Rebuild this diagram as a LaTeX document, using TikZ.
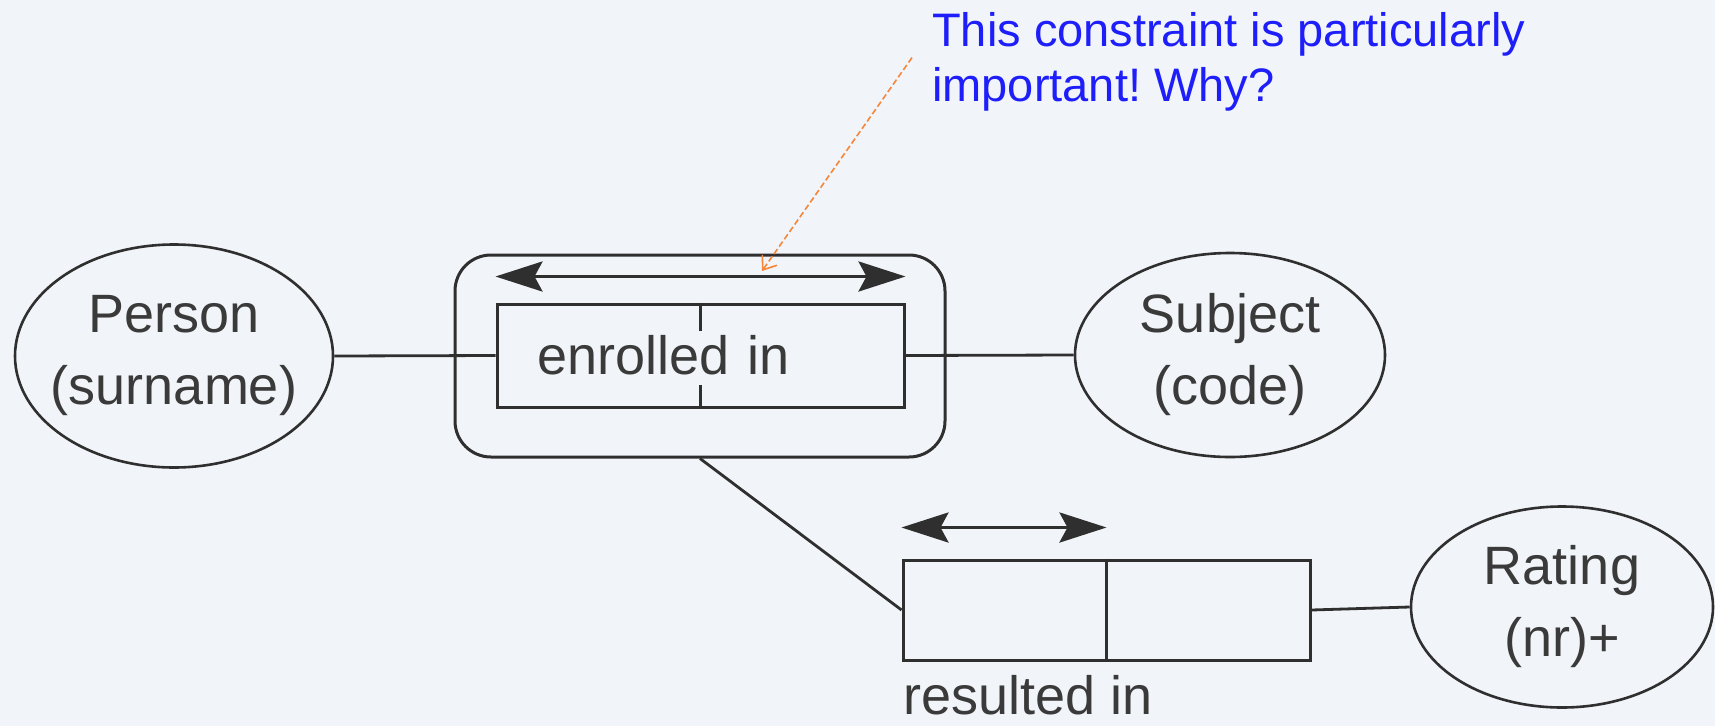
\documentclass[tikz,border=0pt]{standalone}
\usepackage{fontspec}
\setmainfont{Liberation Sans}
\usepackage{xcolor}
\usetikzlibrary{arrows.meta,positioning,shapes.geometric}
\definecolor{SlideBG}   {HTML}{F1F4F8}
\definecolor{InkGray}   {HTML}{2F2F2F}
\definecolor{LabelGray} {HTML}{3A3A3A}
\definecolor{NoteBlue}  {HTML}{1E1EFA}
\definecolor{HintOrange}{HTML}{F5863A}
\frenchspacing

\begin{document}
\begin{tikzpicture}[x=1pt,y=-1pt,
  entity/.style={ellipse,draw=InkGray,line width=2.6pt,text=LabelGray,
    font=\fontsize{54}{72}\selectfont,align=center,inner ysep=0pt,inner xsep=-12pt},
  rolebox/.style={rectangle,draw=InkGray,line width=3pt,minimum width=407pt,
    minimum height=103pt,inner sep=0pt},
  link/.style={draw=InkGray,line width=2.8pt},
  uniq/.style={draw=InkGray,line width=3.5pt,
    {Stealth[length=47pt,width=30pt,inset=8pt]}-{Stealth[length=47pt,width=30pt,inset=8pt]}},
  hint/.style={draw=HintOrange,line width=1.6pt,dash pattern=on 6pt off 3pt,
    -{Straight Barb[length=12pt,width=18pt]}}]
  \fill[SlideBG] (0,0) rectangle (1715,726);
  \useasboundingbox (0,0) rectangle (1715,726);

  % object types
  \node[entity,minimum width=318pt,minimum height=223pt] (person) at (174,356) {Person\\(surname)};
  \node[entity,minimum width=310pt,minimum height=204pt] (subject) at (1230,355) {Subject\\(code)};
  \node[entity,minimum width=302pt,minimum height=201pt] (rating) at (1562,607) {Rating\\(nr)+};

  % objectified fact type
  \node[rectangle,draw=InkGray,line width=3pt,rounded corners=36pt,
        minimum width=490pt,minimum height=202pt] (frame) at (700,356) {};
  \node[rolebox,inner xsep=40pt,text width=327pt,align=left,text=LabelGray,
        font=\fontsize{54}{72}\selectfont] (enrolled) at (700.5,355.5) {enrolled in};
  \draw[link] (enrolled.north) -- ++(0,28);
  \draw[link] (enrolled.south) -- ++(0,-24);
  \draw[uniq] ([yshift=26pt]enrolled.north west) -- ([yshift=26pt]enrolled.north east);

  % nested fact type
  \node[rolebox,minimum height=100pt] (resulted) at (1106.5,610) {};
  \draw[link] (resulted.north) -- (resulted.south);
  \draw[uniq] ([yshift=31pt]resulted.north west) -- ([yshift=31pt]resulted.north);
  \node[anchor=base west,inner sep=0pt,text=LabelGray,font=\fontsize{54}{72}\selectfont]
    (resultlbl) at ([xshift=2pt,yshift=-53pt]resulted.south west) {resulted in};

  % connectors
  \draw[link] (person.east) -- (enrolled.west);
  \draw[link] (enrolled.east) -- (subject.west);
  \draw[link] (frame.south) -- (resulted.west);
  \draw[link] (resulted.east) -- (rating.west);

  % remark
  \node[anchor=north west,text=NoteBlue,align=left,inner xsep=20pt,inner ysep=8pt,
        font=\fontsize{47}{55}\selectfont] (note) at (912,4)
    {This constraint is particularly\\important! Why?};
  \coordinate (focus) at (762,271);
  \draw[hint] ([yshift=4pt]note.west) -- (focus);
\end{tikzpicture}
\end{document}
